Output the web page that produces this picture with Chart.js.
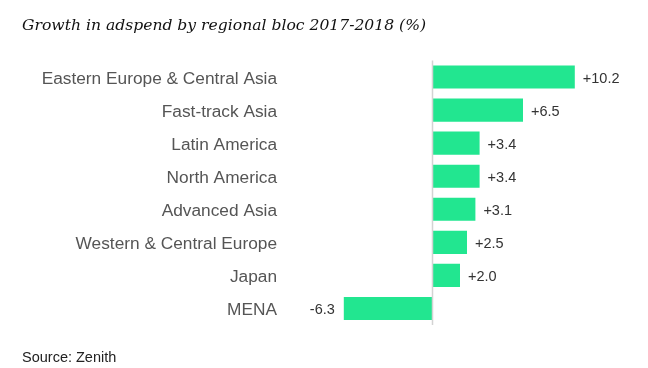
<!DOCTYPE html>
<html>
<head>
<meta charset="utf-8">
<script src="https://cdn.jsdelivr.net/npm/chart.js@4"></script>
<style>
html,body{margin:0;padding:0;background:#fff;}
#wrap{width:648px;height:368px;position:relative;}
</style>
</head>
<body>
<div id="wrap"><canvas id="c" width="648" height="368"></canvas></div>
<script>
const categories = ["Eastern Europe & Central Asia","Fast-track Asia","Latin America","North America","Advanced Asia","Western & Central Europe","Japan","MENA"];
const growth = [10.2, 6.5, 3.4, 3.4, 3.1, 2.5, 2.0, -6.3];
const valueLabels = ["+10.2","+6.5","+3.4","+3.4","+3.1","+2.5","+2.0","-6.3"];
const titleText = "Growth in adspend by regional bloc 2017-2018 (%)";
const sourceText = "Source: Zenith";

const extras = {
  id: 'extras',
  afterDatasetsDraw(chart) {
    const ctx = chart.ctx;
    const xs = chart.scales.x;
    const ca = chart.chartArea;
    const x0 = Math.round(xs.getPixelForValue(0)) + 0.5;
    ctx.save();
    ctx.strokeStyle = '#d3d3d3';
    ctx.lineWidth = 1.5;
    ctx.beginPath();
    ctx.moveTo(x0, ca.top);
    ctx.lineTo(x0, ca.bottom);
    ctx.stroke();
    const meta = chart.getDatasetMeta(0);
    ctx.font = '14.5px "Liberation Sans", Arial, sans-serif';
    ctx.fillStyle = '#333';
    ctx.textBaseline = 'middle';
    meta.data.forEach((bar, i) => {
      const v = growth[i];
      if (v >= 0) {
        ctx.textAlign = 'left';
        ctx.fillText(valueLabels[i], bar.x + 8, bar.y + 1.5);
      } else {
        ctx.textAlign = 'right';
        ctx.fillText(valueLabels[i], bar.x - 9, bar.y + 1.5);
      }
    });
    ctx.textAlign = 'left';
    ctx.textBaseline = 'alphabetic';
    ctx.fillStyle = '#111';
    ctx.font = 'italic 15.6px "DejaVu Serif", Georgia, serif';
    ctx.fillText(titleText, 22, 30);
    ctx.fillStyle = '#222';
    ctx.font = '14.5px "Liberation Sans", Arial, sans-serif';
    ctx.fillText(sourceText, 22, 362);
    ctx.restore();
  }
};

new Chart(document.getElementById('c'), {
  type: 'bar',
  data: {
    labels: categories,
    datasets: [{
      data: growth,
      backgroundColor: '#22e690',
      borderWidth: 0,
      barPercentage: 0.7,
      categoryPercentage: 1.0
    }]
  },
  options: {
    indexAxis: 'y',
    responsive: false,
    animation: false,
    devicePixelRatio: 1,
    layout: { padding: { left: 0, right: 20, top: 60.5, bottom: 43 } },
    plugins: { legend: { display: false }, tooltip: { enabled: false }, title: { display: false } },
    scales: {
      x: { display: false, min: -11, max: 14 },
      y: {
        display: true,
        grid: { display: false, drawTicks: false },
        border: { display: false },
        ticks: {
          color: '#555',
          padding: 1,
          labelOffset: 2,
          font: { family: '"Liberation Sans", Arial, sans-serif', size: 17.3 }
        },
        afterFit(scale) { scale.width = 278; }
      }
    }
  },
  plugins: [extras]
});
</script>
</body>
</html>
